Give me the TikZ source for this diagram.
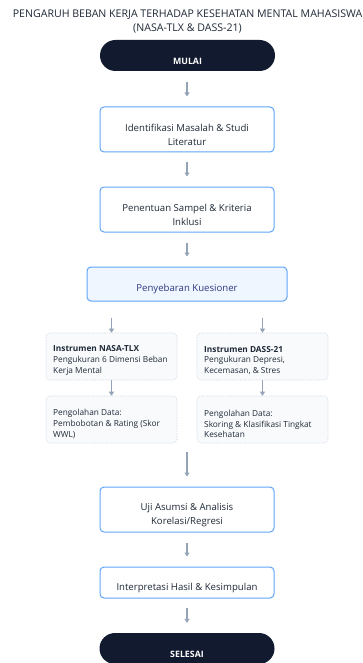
\documentclass[tikz,border=0pt]{standalone}
\usepackage{fontspec}
\setmainfont{Open Sans}
\usetikzlibrary{arrows.meta}
\definecolor{navy}{HTML}{111A2E}
\definecolor{bblue}{HTML}{60A5FA}
\definecolor{lblue}{HTML}{EFF6FF}
\definecolor{agray}{HTML}{94A3B8}
\definecolor{tdark}{HTML}{1F2937}
\definecolor{tblue}{HTML}{2B3A7F}
\definecolor{sfill}{HTML}{F8FAFC}
\definecolor{sbord}{HTML}{D5DCE4}
\begin{document}
\begin{tikzpicture}[x=1pt,y=-1pt,
  pill/.style={fill=navy, rounded corners=15.5pt, minimum width=175pt, minimum height=31pt, inner sep=0pt},
  pilltext/.style={text=white, font=\fontsize{8.8}{10}\selectfont\bfseries, inner sep=0pt},
  mainbox/.style={draw=bblue, line width=1pt, fill=white, rounded corners=4pt, minimum width=174pt, inner sep=0pt},
  hlbox/.style={draw=bblue, line width=1pt, fill=lblue, rounded corners=4pt, minimum width=200pt, minimum height=34pt, inner sep=0pt},
  boxtext/.style={text=tdark, font=\fontsize{9.6}{14}\selectfont, align=center, inner sep=0pt},
  smallbox/.style={draw=sbord, dash pattern=on 1.5pt off 1.2pt, line width=0.6pt, fill=sfill, rounded corners=4pt, minimum width=131pt, minimum height=47pt, inner sep=0pt},
  smalltext/.style={text=tdark, font=\fontsize{8.3}{10.7}\selectfont, align=left, anchor=west, inner sep=0pt},
  arr/.style={draw=agray, line width=1.3pt, -{Triangle[length=4pt,width=5pt]}},
]
\useasboundingbox (0,0) rectangle (363,663);
\fill[white] (0,0) rectangle (363,663);

\node[text=tdark, font=\fontsize{10.6}{14}\selectfont, align=center, inner sep=0pt] (title) at (187.5,22)
  {PENGARUH BEBAN KERJA TERHADAP KESEHATAN MENTAL MAHASISWA\\(NASA-TLX \& DASS-21)};

\node[pill] (start) at (187.5,55.5) {};
\node[pilltext] (startt) at (187.5,61) {MULAI};

\node[mainbox, minimum height=45pt] (b1) at (187,129.5) {};
\node[boxtext] (b1t) at (187,135) {Identifikasi Masalah \& Studi\\Literatur};

\node[mainbox, minimum height=45pt] (b2) at (187,209.5) {};
\node[boxtext] (b2t) at (187,215) {Penentuan Sampel \& Kriteria\\Inklusi};

\node[hlbox] (b3) at (187,284) {};
\node[boxtext, text=tblue] (b3t) at (187,289) {Penyebaran Kuesioner};

\node[smallbox] (a1) at (111.5,356.5) {};
\node[smalltext] (a1t) at (53,360.5) {\textbf{Instrumen NASA-TLX}\\Pengukuran 6 Dimensi Beban\\Kerja Mental};
\node[smallbox] (a2) at (111.5,419.5) {};
\node[smalltext] (a2t) at (53,424) {Pengolahan Data:\\Pembobotan \& Rating (Skor\\WWL)};

\node[smallbox] (c1) at (262.5,356.5) {};
\node[smalltext] (c1t) at (204,360.5) {\textbf{Instrumen DASS-21}\\Pengukuran Depresi,\\Kecemasan, \& Stres};
\node[smallbox] (c2) at (262.5,419.5) {};
\node[smalltext] (c2t) at (204,424) {Pengolahan Data:\\Skoring \& Klasifikasi Tingkat\\Kesehatan};

\coordinate (m) at (187,443);

\node[mainbox, minimum height=45pt] (b4) at (187,509.5) {};
\node[boxtext] (b4t) at (187,515) {Uji Asumsi \& Analisis\\Korelasi/Regresi};

\node[mainbox, minimum height=31pt] (b5) at (187,582.5) {};
\node[boxtext] (b5t) at (187,588) {Interpretasi Hasil \& Kesimpulan};

\node[pill] (end) at (187,648.5) {};
\node[pilltext] (endt) at (187,654) {SELESAI};

\draw[arr, shorten <=11pt, shorten >=10pt] (start.south -| b1.north) -- (b1.north);
\draw[arr, shorten <=10pt, shorten >=10pt] (b1) -- (b2);
\draw[arr, shorten <=10pt, shorten >=10pt] (b2) -- (b3);
\draw[arr, shorten <=16pt] (b3.south -| a1.north) -- (a1.north);
\draw[arr, shorten <=16pt] (b3.south -| c1.north) -- (c1.north);
\draw[arr] (a1) -- (a2);
\draw[arr] (c1) -- (c2);
\draw[arr, shorten <=9pt, shorten >=10pt] (m) -- (b4.north);
\draw[arr, shorten <=10pt, shorten >=10pt] (b4) -- (b5);
\draw[arr, shorten <=9pt, shorten >=10pt] (b5) -- (end);
\end{tikzpicture}
\end{document}
